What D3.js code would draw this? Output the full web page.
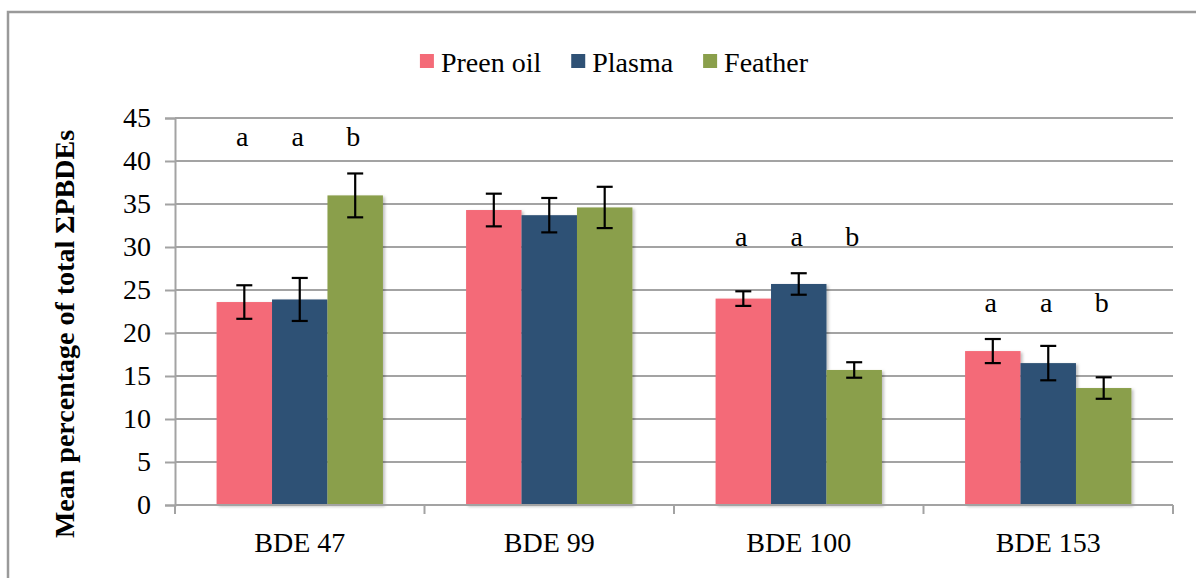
<!DOCTYPE html>
<html>
<head>
<meta charset="utf-8">
<script src="https://cdn.jsdelivr.net/npm/d3@7/dist/d3.min.js"></script>
<style>
  html, body { margin: 0; padding: 0; background: #fff; }
  svg { display: block; }
</style>
</head>
<body>
<svg id="chart" width="1196" height="578"></svg>
<script>
// Congeners on the x axis
const categories = ["BDE 47", "BDE 99", "BDE 100", "BDE 153"];
// Sample matrices (legend order)
const series = ["Preen oil", "Plasma", "Feather"];
const colors = ["#F46B78", "#2F5175", "#8A9F4B"];
// Mean percentage of total ΣPBDEs, one array per matrix
const preenOil = [23.6, 34.3, 24.0, 17.9];
const plasma   = [23.9, 33.7, 25.7, 16.5];
const feather  = [36.0, 34.6, 15.7, 13.6];
// Standard errors
const preenOilErr = [1.95, 1.9, 0.85, 1.4];
const plasmaErr   = [2.5, 2.0, 1.25, 2.0];
const featherErr  = [2.55, 2.4, 0.9, 1.25];
// Significance letters per congener (empty = no letters)
const letters = [["a", "a", "b"], [], ["a", "a", "b"], ["a", "a", "b"]];
// Y axis ticks
const yTicks = [0, 5, 10, 15, 20, 25, 30, 35, 40, 45];

const values = [preenOil, plasma, feather];
const errors = [preenOilErr, plasmaErr, featherErr];

const FONT = "Liberation Serif";

const svg = d3.select("#chart").attr("font-family", FONT);
const margin = { left: 175, right: 1173, top: 118, bottom: 505 };

// Outer chart frame
svg.append("rect")
  .attr("x", 8).attr("y", 12)
  .attr("width", 1300).attr("height", 700)
  .attr("fill", "none").attr("stroke", "#9a9a9a").attr("stroke-width", 2.5);

const defs = svg.append("defs");
const f = defs.append("filter").attr("id", "shadow")
  .attr("x", "-10%").attr("y", "-10%").attr("width", "130%").attr("height", "130%");
f.append("feDropShadow").attr("dx", 2).attr("dy", 1.5).attr("stdDeviation", 1.8)
  .attr("flood-color", "#000").attr("flood-opacity", 0.25);

const y = d3.scaleLinear().domain([0, 45]).range([margin.bottom, margin.top]);
const x = d3.scaleBand().domain(categories).range([margin.left, margin.right])
  .paddingInner(0).paddingOuter(0);
const xs = d3.scaleBand().domain(series).range([0, x.bandwidth()])
  .paddingInner(0).paddingOuter(0.75);

const gridColor = "#a3a3a3";

function label(sel, size) {
  return sel.style("font-family", FONT).style("font-size", size + "px").attr("fill", "#000");
}

// Horizontal gridlines
svg.append("g").selectAll("line")
  .data(yTicks.filter(t => t > 0))
  .join("line")
  .attr("x1", margin.left).attr("x2", margin.right)
  .attr("y1", d => y(d)).attr("y2", d => y(d))
  .attr("stroke", gridColor).attr("stroke-width", 2);

// Y axis
const yAxis = svg.append("g")
  .attr("transform", `translate(${margin.left},0)`)
  .call(d3.axisLeft(y).tickValues(yTicks).tickSize(10).tickPadding(14).tickFormat(d3.format("d")));
yAxis.attr("font-family", FONT);
yAxis.select(".domain").attr("stroke", gridColor).attr("stroke-width", 2);
yAxis.selectAll(".tick line").attr("stroke", gridColor).attr("stroke-width", 2);
label(yAxis.selectAll(".tick text"), 28);

// Bars
const barData = [];
categories.forEach((c, i) => {
  series.forEach((s, j) => {
    barData.push({ cat: c, ser: s, j, v: values[j][i], e: errors[j][i] });
  });
});

svg.append("g").attr("filter", "url(#shadow)")
  .selectAll("rect")
  .data(barData)
  .join("rect")
  .attr("x", d => x(d.cat) + xs(d.ser))
  .attr("y", d => y(d.v))
  .attr("width", xs.bandwidth())
  .attr("height", d => y(0) - y(d.v))
  .attr("fill", d => colors[d.j]);

// X axis
const xAxis = svg.append("g")
  .attr("transform", `translate(0,${margin.bottom})`);
xAxis.append("line")
  .attr("x1", margin.left).attr("x2", margin.right)
  .attr("stroke", gridColor).attr("stroke-width", 2);
const boundaries = categories.map(c => x(c)).concat([margin.right]);
xAxis.selectAll("line.tk")
  .data(boundaries)
  .join("line").attr("class", "tk")
  .attr("x1", d => d).attr("x2", d => d)
  .attr("y1", 0).attr("y2", 9)
  .attr("stroke", gridColor).attr("stroke-width", 2);
label(xAxis.selectAll("text")
  .data(categories)
  .join("text")
  .attr("x", d => x(d) + x.bandwidth() / 2)
  .attr("y", 47)
  .attr("text-anchor", "middle")
  .text(d => d), 28);

// Error bars
const eb = svg.append("g").attr("stroke", "#000").attr("stroke-width", 2.2);
barData.forEach(d => {
  const cx = x(d.cat) + xs(d.ser) + xs.bandwidth() / 2;
  const top = y(d.v + d.e), bot = y(d.v - d.e);
  eb.append("line").attr("x1", cx).attr("x2", cx).attr("y1", top).attr("y2", bot);
  eb.append("line").attr("x1", cx - 8).attr("x2", cx + 8).attr("y1", top).attr("y2", top);
  eb.append("line").attr("x1", cx - 8).attr("x2", cx + 8).attr("y1", bot).attr("y2", bot);
});

// Significance letters above each group
const letterG = svg.append("g");
categories.forEach((c, i) => {
  if (!letters[i].length) return;
  const maxTop = d3.max(series, (s, j) => values[j][i] + errors[j][i]);
  const baseY = y(maxTop) - 27;
  series.forEach((s, j) => {
    label(letterG.append("text")
      .attr("x", x(c) + xs(s) + xs.bandwidth() / 2 - 2)
      .attr("y", baseY)
      .attr("text-anchor", "middle")
      .text(letters[i][j]), 28);
  });
});

// Y axis title
label(svg.append("text")
  .attr("transform", "translate(74,334) rotate(-90)")
  .attr("text-anchor", "middle")
  .style("font-weight", "bold")
  .text("Mean percentage of total ΣPBDEs"), 28);

// Legend, centred above the plot
const legend = svg.append("g");
const items = legend.selectAll("g").data(series).join("g");
items.append("rect")
  .attr("width", 14).attr("height", 14)
  .attr("y", 54)
  .attr("fill", (d, i) => colors[i]);
label(items.append("text")
  .attr("x", 21).attr("y", 72)
  .text(d => d), 28);
let pos = 0;
const gap = 30;
items.each(function () {
  const w = 21 + d3.select(this).select("text").node().getComputedTextLength();
  d3.select(this).attr("transform", `translate(${pos},0)`);
  pos += w + gap;
});
const totalW = pos - gap;
legend.attr("transform", `translate(${614 - totalW / 2},0)`);
</script>
</body>
</html>
